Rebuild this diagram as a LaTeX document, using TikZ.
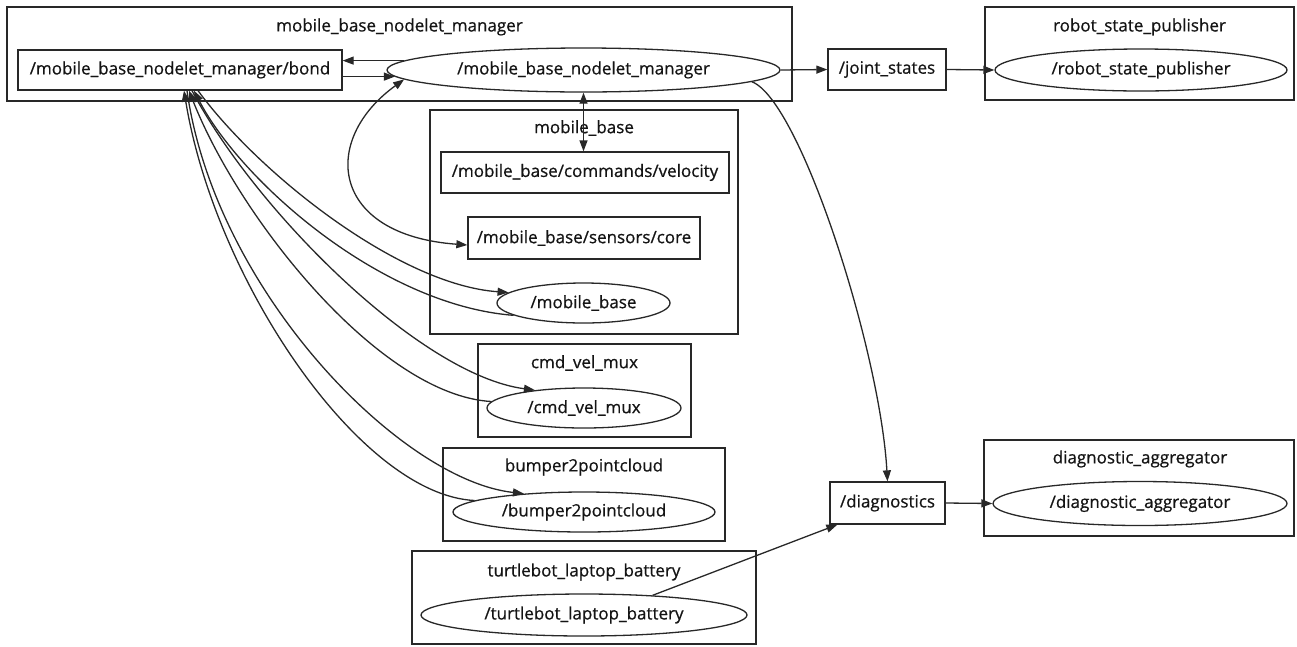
\documentclass[tikz,border=0pt]{standalone}
\usepackage{fontspec}
\setmainfont{Open Sans}[FakeBold=0.7]
\usetikzlibrary{shapes.geometric,arrows.meta}
\definecolor{ln}{RGB}{40,40,40}
\definecolor{txt}{RGB}{20,20,20}
\begin{document}
\begin{tikzpicture}[x=1pt,y=-1pt,
  every node/.style={font=\fontsize{17}{20}\selectfont, text=txt},
  cluster/.style={draw=ln, line width=1.3pt, rectangle, inner sep=0pt},
  topic/.style={draw=ln, line width=1.3pt, rectangle, inner sep=0pt},
  gnode/.style={draw=ln, line width=1.3pt, ellipse, inner sep=0pt},
  ttl/.style={inner sep=0pt},
  edge/.style={draw=ln, line width=1.3pt, -{Triangle[length=11pt,width=8pt]}},
  dedge/.style={draw=ln, line width=1.3pt, {Triangle[length=11pt,width=8pt]}-{Triangle[length=11pt,width=8pt]}},
]
\useasboundingbox (0,0) rectangle (1297,646);
% clusters
\node[cluster, minimum width=785pt, minimum height=94pt] (cmgr) at (399.5,54) {};
\node[ttl] (tmgr) at (399.5,27) {mobile\_base\_nodelet\_manager};
\node[cluster, minimum width=309pt, minimum height=93pt] (crsp) at (1139.5,53.5) {};
\node[ttl] (trsp) at (1139.5,27) {robot\_state\_publisher};
\node[cluster, minimum width=308pt, minimum height=224pt] (cmb) at (584,222) {};
\node[ttl] (tmb) at (584,128) {mobile\_base};
\node[cluster, minimum width=213pt, minimum height=93pt] (ccvm) at (584.5,390.5) {};
\node[ttl] (tcvm) at (584.5,363) {cmd\_vel\_mux};
\node[cluster, minimum width=282pt, minimum height=93pt] (cbump) at (584,494.5) {};
\node[ttl] (tbump) at (584,467) {bumper2pointcloud};
\node[cluster, minimum width=344pt, minimum height=93pt] (cbat) at (584,597.5) {};
\node[ttl] (tbat) at (584,572) {turtlebot\_laptop\_battery};
\node[cluster, minimum width=310pt, minimum height=96pt] (cdiag) at (1139,488) {};
\node[ttl] (tdiag) at (1140,459) {diagnostic\_aggregator};
% nodes
\node[topic, minimum width=324pt, minimum height=40pt] (bond) at (180,70) {/mobile\_base\_nodelet\_manager/bond};
\node[gnode, minimum width=393pt, minimum height=44pt] (mgr) at (583.5,70) {/mobile\_base\_nodelet\_manager};
\node[topic, minimum width=118pt, minimum height=41pt] (js) at (887,69.5) {/joint\_states};
\node[gnode, minimum width=292pt, minimum height=42pt] (rsp) at (1141,70) {/robot\_state\_publisher};
\node[topic, minimum width=288pt, minimum height=41pt] (vel) at (585,172.5) {/mobile\_base/commands/velocity};
\node[topic, minimum width=232pt, minimum height=42pt] (core) at (584,238) {/mobile\_base/sensors/core};
\node[gnode, minimum width=173pt, minimum height=40pt] (mb) at (583.5,303) {/mobile\_base};
\node[gnode, minimum width=194pt, minimum height=40pt] (cvm) at (584,408) {/cmd\_vel\_mux};
\node[gnode, minimum width=262pt, minimum height=40pt] (bump) at (584,512) {/bumper2pointcloud};
\node[gnode, minimum width=326pt, minimum height=42pt] (bat) at (584,615) {/turtlebot\_laptop\_battery};
\node[topic, minimum width=115pt, minimum height=42pt] (diag) at (887.5,503) {/diagnostics};
\node[gnode, minimum width=294pt, minimum height=44pt] (dagg) at (1140,503.5) {/diagnostic\_aggregator};
% edges
\draw[edge] (mgr.177.5) -- (bond.east |- mgr.177.5);
\draw[edge] (bond.east |- mgr.182.5) -- (mgr.182.5);
\draw[edge] (mgr.east) -- (js.west);
\draw[edge] (js.east) -- (rsp.west);
\draw[dedge] (mgr.south) -- (mgr.south |- vel.north);
\draw[dedge] (mgr.183) .. controls (320,140) and (330,235) .. ([yshift=-7pt]core.west);
\draw[edge] (mgr.356) .. controls (800,100) and (880,350) .. (diag.north);
\draw[edge] (diag.east) -- (dagg.west);
\draw[edge] (bat.16) -- ([xshift=8pt]diag.south west);
% fan
\draw[edge] ([xshift=18pt]bond.south) .. controls (260,175) and (400,285) .. (mb.172);
\draw[edge] (mb.190) .. controls (380,305) and (240,180) .. ([xshift=14pt]bond.south);
\draw[edge] ([xshift=12pt]bond.south) .. controls (255,210) and (420,375) .. (cvm.160);
\draw[edge] (cvm.176) .. controls (380,395) and (240,220) .. ([xshift=9pt]bond.south);
\draw[edge] ([xshift=7pt]bond.south) .. controls (215,290) and (400,480) .. (bump.163);
\draw[edge] (bump.174) .. controls (360,495) and (215,280) .. ([xshift=4pt]bond.south);
\end{tikzpicture}
\end{document}
